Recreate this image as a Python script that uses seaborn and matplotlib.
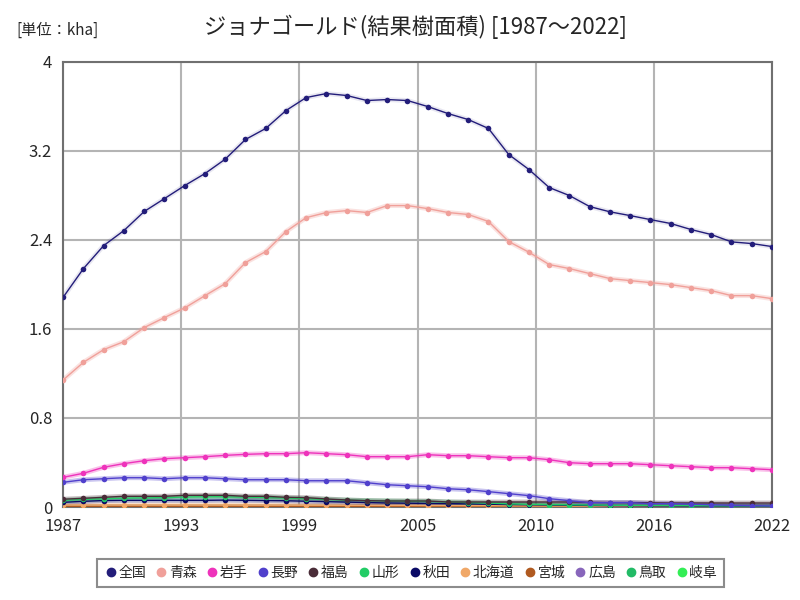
import numpy as np
import pandas as pd
import matplotlib
import matplotlib.pyplot as plt
import seaborn as sns

sns.set_style("white")
matplotlib.rcParams["font.family"] = ["Noto Sans CJK JP", "DejaVu Sans"]
matplotlib.rcParams["figure.dpi"] = 100

years = list(range(1987, 2023))

zenkoku = [1.885, 2.142, 2.349, 2.484, 2.655, 2.771, 2.888, 2.996, 3.125, 3.302,
           3.401, 3.562, 3.679, 3.715, 3.697, 3.652, 3.661, 3.652, 3.598, 3.535,
           3.481, 3.401, 3.167, 3.032, 2.870, 2.798, 2.699, 2.652, 2.618, 2.582,
           2.547, 2.493, 2.448, 2.382, 2.367, 2.340]
aomori = [1.142, 1.300, 1.414, 1.486, 1.612, 1.702, 1.789, 1.899, 2.007, 2.196,
          2.295, 2.475, 2.600, 2.646, 2.663, 2.646, 2.708, 2.708, 2.681, 2.646,
          2.628, 2.565, 2.385, 2.289, 2.178, 2.142, 2.097, 2.052, 2.034, 2.016,
          1.998, 1.971, 1.944, 1.899, 1.899, 1.872]
iwate = [0.267, 0.303, 0.357, 0.390, 0.416, 0.434, 0.443, 0.452, 0.464, 0.473,
         0.479, 0.479, 0.488, 0.479, 0.470, 0.452, 0.452, 0.452, 0.470, 0.461,
         0.461, 0.452, 0.443, 0.443, 0.425, 0.398, 0.389, 0.389, 0.389, 0.380,
         0.371, 0.362, 0.353, 0.353, 0.344, 0.335]
nagano = [0.222, 0.245, 0.254, 0.263, 0.263, 0.254, 0.263, 0.263, 0.254, 0.245,
          0.245, 0.245, 0.236, 0.236, 0.236, 0.218, 0.200, 0.191, 0.182, 0.164,
          0.155, 0.138, 0.120, 0.102, 0.075, 0.057, 0.039, 0.039, 0.039, 0.030,
          0.030, 0.025, 0.020, 0.015, 0.012, 0.010]
fukushima = [0.070, 0.078, 0.087, 0.096, 0.096, 0.096, 0.105, 0.105, 0.105, 0.096,
             0.096, 0.087, 0.084, 0.072, 0.063, 0.057, 0.054, 0.054, 0.054, 0.045,
             0.045, 0.045, 0.045, 0.045, 0.045, 0.045, 0.042, 0.040, 0.040, 0.038,
             0.036, 0.036, 0.036, 0.036, 0.036, 0.036]
yamagata = [0.060, 0.068, 0.074, 0.080, 0.082, 0.084, 0.090, 0.092, 0.092, 0.088,
            0.086, 0.080, 0.075, 0.068, 0.062, 0.058, 0.055, 0.052, 0.050, 0.045,
            0.040, 0.035, 0.028, 0.024, 0.022, 0.020, 0.018, 0.016, 0.015, 0.014,
            0.013, 0.012, 0.011, 0.010, 0.010, 0.010]
akita = [0.042, 0.051, 0.058, 0.060, 0.060, 0.060, 0.060, 0.060, 0.062, 0.060,
         0.058, 0.056, 0.052, 0.048, 0.044, 0.040, 0.036, 0.034, 0.032, 0.030,
         0.028, 0.025, 0.022, 0.020, 0.018, 0.016, 0.014, 0.012, 0.011, 0.010,
         0.009, 0.008, 0.008, 0.007, 0.007, 0.006]
hokkaido = [0.018, 0.018, 0.018, 0.018, 0.018, 0.018, 0.018, 0.018, 0.018, 0.017,
            0.017, 0.017, 0.016, 0.016, 0.015, 0.015, 0.014, 0.014, 0.013, 0.013,
            0.012, 0.012, 0.011, 0.010, 0.009, 0.009, 0.008, 0.008, 0.007, 0.007,
            0.006, 0.006, 0.006, 0.005, 0.005, 0.005]
miyagi = [0.006, 0.006, 0.006, 0.006, 0.006, 0.006, 0.006, 0.006, 0.006, 0.006,
          0.006, 0.006, 0.006, 0.005, 0.005, 0.005, 0.005, 0.005, 0.005, 0.005,
          0.004, 0.004, 0.004, 0.004, 0.004, 0.004, 0.003, 0.003, 0.003, 0.003,
          0.003, 0.003, 0.003, 0.003, 0.003, 0.003]
hiroshima = [0.003] * 12 + [0.003] * 12 + [0.002] * 12
tottori = [0.002] * 18 + [0.0015] * 18
gifu = [0.001] * 36

series = {
    "全国": zenkoku, "青森": aomori, "岩手": iwate, "長野": nagano,
    "福島": fukushima, "山形": yamagata, "秋田": akita, "北海道": hokkaido,
    "宮城": miyagi, "広島": hiroshima, "鳥取": tottori, "岐阜": gifu,
}
colors = ["#231d7a", "#f0a09a", "#ee33bb", "#5040cc", "#4a2c38", "#22cc66",
          "#0a0a66", "#f0a868", "#b05a20", "#8866bb", "#22bb66", "#33ee55"]
palette = dict(zip(series.keys(), colors))

df = pd.DataFrame([(name, y, v) for name, vals in series.items()
                   for y, v in zip(years, vals)], columns=["pref", "year", "value"])

fig = plt.figure(figsize=(8, 6))
ax = fig.add_axes([0.079, 0.155, 0.886, 0.742])

# soft halo under each line
for name in list(series.keys())[::-1]:
    ax.plot(years, series[name], color=palette[name], lw=3.5,
            alpha=0.1 if name == "全国" else 0.3,
            solid_capstyle="round", zorder=2)

sns.lineplot(data=df, x="year", y="value", hue="pref", palette=palette,
             hue_order=list(series.keys())[::-1], marker="o", markersize=4,
             markeredgewidth=0, lw=1, ax=ax, legend=False, zorder=3)

ax.set_xlim(1987, 2022)
ax.set_ylim(0, 4)
xt = np.linspace(1987, 2022, 7)
ax.set_xticks(xt)
ax.set_xticklabels([str(int(t + 0.5)) for t in xt])
ax.set_yticks([0, 0.8, 1.6, 2.4, 3.2, 4])
ax.set_yticklabels(["0", "0.8", "1.6", "2.4", "3.2", "4"])
ax.tick_params(axis="both", length=0, labelsize=12, pad=8)
ax.grid(True, color="#b4b4b4", lw=1.5)
ax.set_xlabel("")
ax.set_ylabel("")
for sp in ax.spines.values():
    sp.set_color("#707070")
    sp.set_linewidth(1.5)

fig.text(0.52, 0.955, "ジョナゴールド(結果樹面積) [1987～2022]", ha="center",
         va="center", fontsize=16)
fig.text(0.02, 0.95, "[単位：kha]", ha="left", va="center", fontsize=11)

handles = [plt.Line2D([], [], color=palette[n], marker="o", lw=0, markersize=6)
           for n in series]
leg = fig.legend(handles, list(series.keys()), loc="center", ncol=12,
                 bbox_to_anchor=(0.513, 0.045), fontsize=10, frameon=True,
                 fancybox=False, handletextpad=0.05, columnspacing=0.6,
                 borderpad=0.5, handlelength=1.0)
leg.get_frame().set_edgecolor("#707070")
leg.get_frame().set_linewidth(1.5)

fig.savefig("out.png", dpi=100)
